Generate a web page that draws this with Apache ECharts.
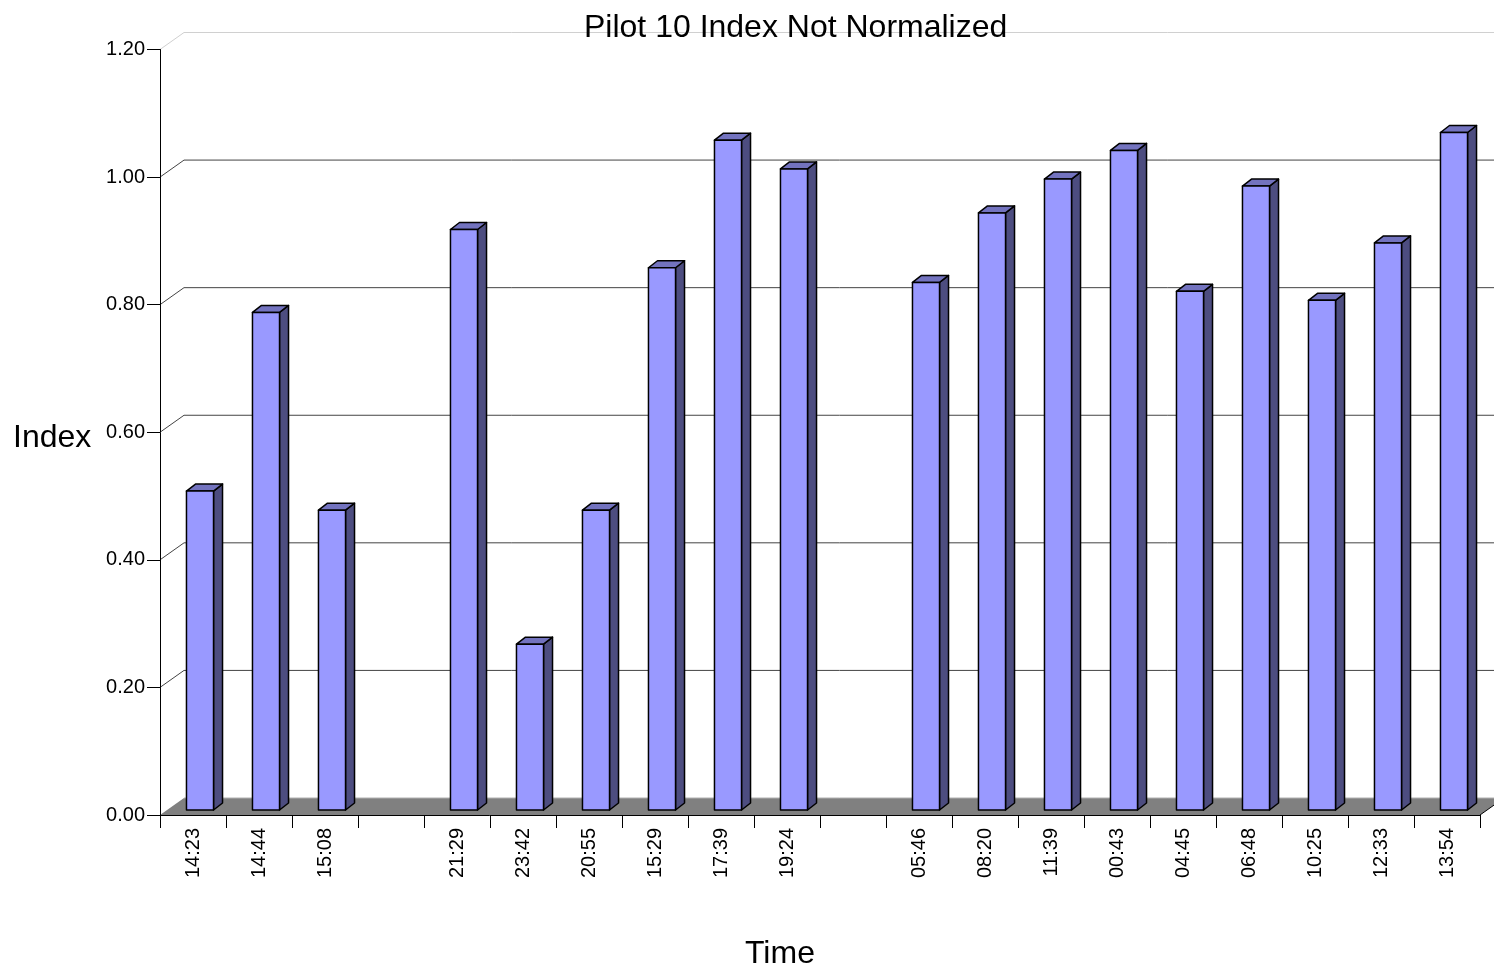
<!DOCTYPE html>
<html>
<head>
<meta charset="utf-8">
<script src="https://cdn.jsdelivr.net/npm/echarts@6/dist/echarts.min.js"></script>
<style>
html,body{margin:0;padding:0;background:#fff;}
#chart{width:1494px;height:973px;}
</style>
</head>
<body>
<div id="chart"></div>
<script>
// ---- data ----
var categories = ['14:23','14:44','15:08','','21:29','23:42','20:55','15:29','17:39','19:24','','05:46','08:20','11:39','00:43','04:45','06:48','10:25','12:33','13:54'];
var indexValues = [0.50,0.78,0.47,null,0.91,0.26,0.47,0.85,1.05,1.005,null,0.827,0.936,0.989,1.034,0.813,0.978,0.799,0.889,1.062];
var yTicks = [0.20,0.40,0.60,0.80,1.00,1.20];
var titleText = 'Pilot 10 Index Not Normalized';
var xName = 'Time';
var yName = 'Index';

var FONT = "'Liberation Sans', Arial, Helvetica, sans-serif";
var DEPTH_X = 24, DEPTH_Y = -17;

var chart = echarts.init(document.getElementById('chart'), null, {renderer:'canvas'});

var barData = indexValues.map(function(v,i){ return [i, v]; });

var option = {
  animation:false,
  backgroundColor:'#ffffff',
  title:{
    text:titleText, left:579, top:7,
    textStyle:{fontFamily:FONT, fontSize:32, fontWeight:'normal', color:'#000'}
  },
  graphic:[
    {type:'text', left:745, top:938, style:{text:xName, font:'32px ' + FONT, fill:'#000'}},
    {type:'text', left:13, top:422, style:{text:yName, font:'32px ' + FONT, fill:'#000'}}
  ],
  grid:{left:160, right:14, top:49.5, bottom:158, containLabel:false},
  xAxis:{
    type:'category', data:categories, boundaryGap:true, z:10,
    axisLine:{show:true, lineStyle:{color:'#000', width:1}},
    axisTick:{show:true, interval:0, length:13, lineStyle:{color:'#000'}},
    axisLabel:{interval:0, rotate:90, margin:13, fontFamily:FONT, fontSize:20, color:'#000'},
    splitLine:{show:false}
  },
  yAxis:{
    type:'value', min:0, max:1.2, interval:0.2, z:10,
    axisLine:{show:true, lineStyle:{color:'#000', width:1}},
    axisTick:{show:true, length:13, lineStyle:{color:'#000'}},
    axisLabel:{margin:15, fontFamily:FONT, fontSize:20, color:'#000', formatter:function(v){return v.toFixed(2);}},
    splitLine:{show:false}
  },
  series:[
    // back grid lines
    {
      type:'custom', z:1, silent:true,
      data:yTicks.map(function(v){return [0, v];}),
      renderItem:function(params, api){
        var cs = params.coordSys;
        var v = api.value(1);
        var y = api.coord([0, v])[1];
        var top = Math.abs(v - yTicks[yTicks.length-1]) < 1e-9;
        var col = top ? '#d0d0d0' : '#444444';
        return {
          type:'polyline',
          shape:{points:[[cs.x, y],[cs.x + DEPTH_X, y + DEPTH_Y],[cs.x + cs.width + DEPTH_X + 40, y + DEPTH_Y]]},
          style:{stroke:col, lineWidth:1, fill:null}
        };
      }
    },
    // floor
    {
      type:'custom', z:2, silent:true,
      data:[[0,0]],
      renderItem:function(params, api){
        var cs = params.coordSys;
        var y = api.coord([0, 0])[1];
        var x0 = cs.x, x1 = cs.x + cs.width;
        return {
          type:'group',
          children:[
            {type:'polygon', shape:{points:[[x0,y],[x1,y],[x1+DEPTH_X,y+DEPTH_Y],[x0+DEPTH_X,y+DEPTH_Y]]},
             style:{fill:'#808080', stroke:null}},
            {type:'line', shape:{x1:x0+DEPTH_X, y1:y+DEPTH_Y, x2:x1+DEPTH_X, y2:y+DEPTH_Y},
             style:{stroke:'#b0b0b0', lineWidth:1}},
            {type:'line', shape:{x1:x1, y1:y, x2:x1+DEPTH_X, y2:y+DEPTH_Y},
             style:{stroke:'#000', lineWidth:1}}
          ]
        };
      }
    },
    // 3D bars
    {
      type:'custom', z:5,
      data:barData,
      renderItem:function(params, api){
        var v = api.value(1);
        if (v === null || v === undefined || isNaN(v)) return;
        var idx = api.value(0);
        var base = api.coord([idx, 0]);
        var top = api.coord([idx, v]);
        var bw = api.size([1, 0])[0];
        var w = bw * 0.41;
        var fx = 7, fy = -5, dx = 9, dy = -7;
        var x0 = base[0] - w/2 + fx;
        var x1 = x0 + w;
        var yt = top[1] + fy;
        var yb = base[1] + fy;
        var st = {stroke:'#000', lineWidth:1.5, lineJoin:'round'};
        return {
          type:'group',
          children:[
            {type:'polygon', shape:{points:[[x1,yt],[x1+dx,yt+dy],[x1+dx,yb+dy],[x1,yb]]},
             style:Object.assign({fill:'#4D4D80'}, st)},
            {type:'polygon', shape:{points:[[x0,yt],[x1,yt],[x1+dx,yt+dy],[x0+dx,yt+dy]]},
             style:Object.assign({fill:'#7373BF'}, st)},
            {type:'rect', shape:{x:x0, y:yt, width:w, height:yb-yt},
             style:Object.assign({fill:'#9999FF'}, st)}
          ]
        };
      }
    }
  ]
};
chart.setOption(option);
</script>
</body>
</html>
